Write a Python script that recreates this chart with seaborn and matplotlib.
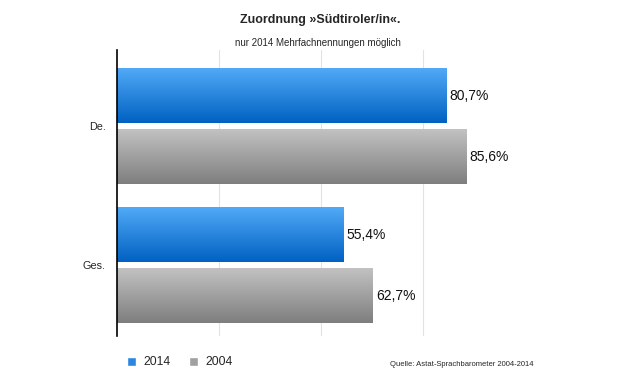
import numpy as np
import pandas as pd
import matplotlib
matplotlib.use("Agg")
import matplotlib.pyplot as plt
import seaborn as sns
from matplotlib.colors import LinearSegmentedColormap
from matplotlib.patches import Patch

# Daten
kategorien = ["De.", "Ges."]
jahre = ["2014", "2004"]
werte_2014 = [80.7, 55.4]
werte_2004 = [85.6, 62.7]

df = pd.DataFrame({
    "gruppe": kategorien * 2,
    "jahr": [jahre[0]] * 2 + [jahre[1]] * 2,
    "wert": werte_2014 + werte_2004,
})

sns.set_style("white")
plt.rcParams["font.family"] = ["Liberation Sans", "DejaVu Sans"]

fig = plt.figure(figsize=(6.2, 3.84), dpi=100)
ax = fig.add_axes([0.1887, 0.125, 0.6581, 0.7448])

sns.barplot(data=df, y="gruppe", x="wert", hue="jahr", orient="h",
            width=0.88, gap=0.1, legend=False, ax=ax, errorbar=None)

# Farbverläufe (oben hell, unten dunkel)
verlaeufe = {
    "2014": LinearSegmentedColormap.from_list("b", ["#52aaf7", "#0061c2"]),
    "2004": LinearSegmentedColormap.from_list("g", ["#c2c2c2", "#7e7e7e"]),
}
grad = np.linspace(0, 1, 256).reshape(-1, 1)
for jahr, cont in zip(jahre, ax.containers):
    for bar in cont:
        x0, y0 = bar.get_x(), bar.get_y()
        w, h = bar.get_width(), bar.get_height()
        im = ax.imshow(grad, cmap=verlaeufe[jahr], aspect="auto",
                       extent=[x0, x0 + w, y0 + h, y0], zorder=2)
        im.set_clip_path(bar)
        bar.set_facecolor("none")
        bar.set_edgecolor("none")
        ax.text(x0 + w + 0.8, y0 + h / 2, f"{w:.1f}%".replace(".", ","),
                va="center", ha="left", fontsize=10, color="#111111")

ax.set_xlim(0, 100)
ax.set_ylim(1.51, -0.55)
ax.set_xticks([25, 50, 75, 100])
ax.set_xticklabels([])
ax.grid(axis="x", color="#e2e2e2", linewidth=0.8)
ax.set_axisbelow(True)
ax.tick_params(axis="both", length=0)
ax.tick_params(axis="y", pad=8, labelsize=7.8)
ax.set_xlabel("")
ax.set_ylabel("")
for s in ["top", "right", "bottom"]:
    ax.spines[s].set_visible(False)
ax.spines["left"].set_color("black")
ax.spines["left"].set_linewidth(1.2)

fig.text(0.516, 0.948, "Zuordnung »Südtiroler/in«.", ha="center", va="center",
         fontsize=9, fontweight="bold")
fig.text(0.513, 0.888, "nur 2014 Mehrfachnennungen möglich", ha="center",
         va="center", fontsize=7)
fig.text(0.629, 0.052, "Quelle: Astat-Sprachbarometer 2004-2014", ha="left",
         va="center", fontsize=5.5)

handles = [Patch(facecolor="#2a86e0", label="2014"),
           Patch(facecolor="#a0a0a0", label="2004")]
fig.legend(handles=handles, loc="center left", bbox_to_anchor=(0.205, 0.056),
           ncol=2, frameon=False, fontsize=8.7, handlelength=0.75,
           handleheight=0.75, handletextpad=0.6, columnspacing=1.5,
           borderaxespad=0, borderpad=0)

fig.savefig("out.png", dpi=100)
